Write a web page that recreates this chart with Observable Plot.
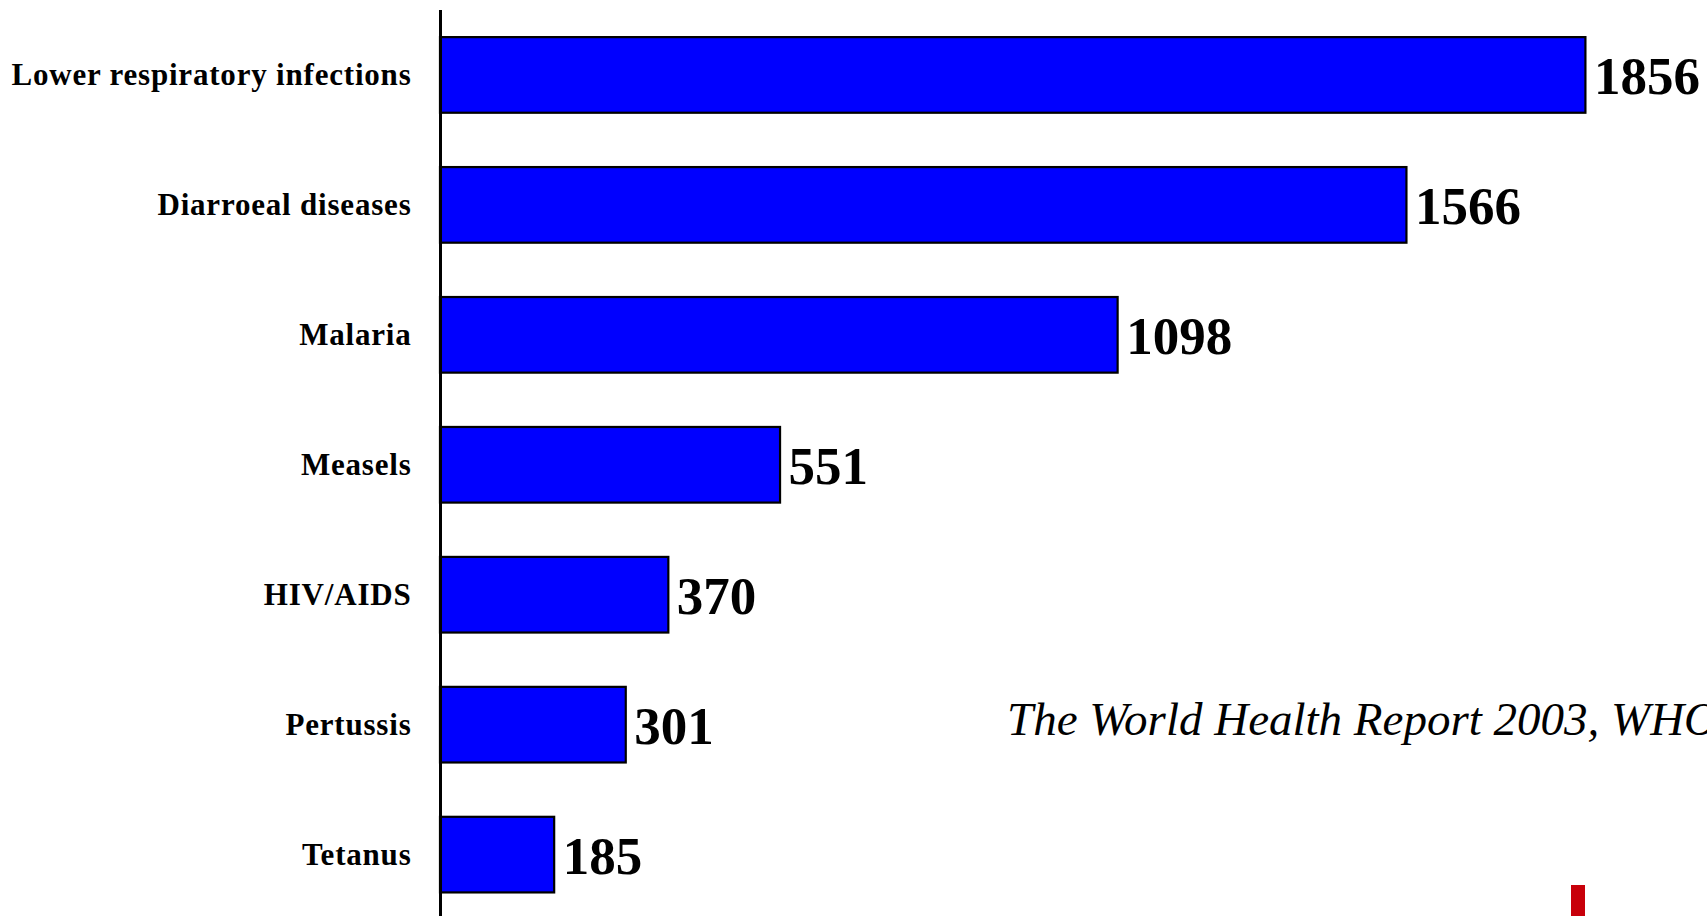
<!DOCTYPE html>
<html>
<head>
<meta charset="utf-8">
<script src="https://cdn.jsdelivr.net/npm/d3@7"></script>
<script src="https://cdn.jsdelivr.net/npm/@observablehq/plot@0.6"></script>
<style>
  html, body { margin: 0; padding: 0; background: #fff; overflow: hidden; }
  #wrap { position: relative; width: 1707px; height: 916px; overflow: hidden; }
  #chart svg g[aria-label="y-axis tick label"] text { letter-spacing: 0.8px; }
  #caption { position: absolute; left: 1007px; top: 696px; white-space: nowrap;
    font-family: "Liberation Serif", "Times New Roman", serif; font-style: italic;
    font-size: 47px; line-height: 1; color: #000; }
  #logo { position: absolute; left: 1571px; top: 885px; width: 14px; height: 31px; background: #c8000a; }
</style>
</head>
<body>
<div id="wrap">
  <div id="chart"></div>
  <div id="caption">The World Health Report 2003, WHO</div>
  <div id="logo"></div>
</div>
<script>
const causes = ["Lower respiratory infections", "Diarroeal diseases", "Malaria", "Measels", "HIV/AIDS", "Pertussis", "Tetanus"];
const deaths = [1856, 1566, 1098, 551, 370, 301, 185];

const data = causes.map((c, i) => ({cause: c, value: deaths[i]}));

const chart = Plot.plot({
  width: 1707,
  height: 916,
  marginLeft: 440,
  marginRight: 0,
  marginTop: 10,
  marginBottom: 0,
  style: {fontFamily: "'Liberation Serif', 'Times New Roman', serif", fontSize: "31px", fontWeight: "bold", color: "#000", background: "#fff"},
  x: {domain: [0, 2053], axis: null},
  y: {domain: causes, paddingInner: 0.418, paddingOuter: 0.195, align: 0.535, round: false, label: null},
  marks: [
    Plot.axisY({tickSize: 0, tickPadding: 29, fontSize: 31, fontWeight: "bold"}),
    Plot.barX(data, {x: "value", y: "cause", fill: "#0000ff", stroke: "#000", strokeWidth: 2.2}),
    Plot.ruleX([0], {stroke: "#000", strokeWidth: 3}),
    Plot.text(data, {x: "value", y: "cause", text: d => String(d.value), textAnchor: "start", dx: 8, dy: 2, fontSize: 53, fontWeight: "bold", fill: "#000"})
  ]
});
document.getElementById("chart").appendChild(chart);
</script>
</body>
</html>
